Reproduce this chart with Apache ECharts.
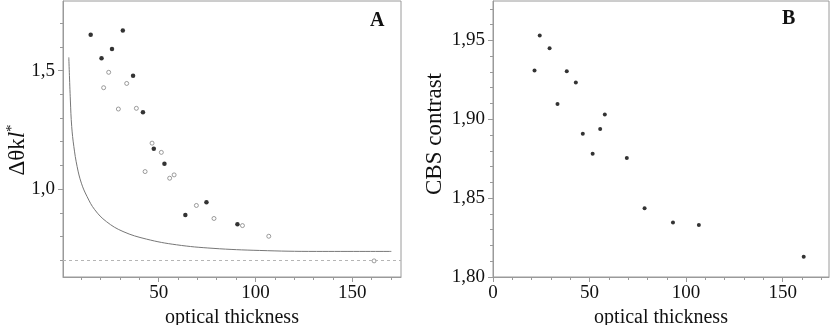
<!DOCTYPE html>
<html>
<head>
<meta charset="utf-8">
<script src="https://cdn.jsdelivr.net/npm/echarts@6/dist/echarts.min.js"></script>
<style>
html,body{margin:0;padding:0;background:#fff;}
#chart{width:830px;height:325px;}
</style>
</head>
<body>
<div id="chart"></div>
<script>
// ---- Panel A data ----
const filledA_x = [14.9, 31.5, 20.5, 25.9, 36.8, 41.9, 47.5, 53.0, 63.8, 74.7, 90.7];
const filledA_y = [1.652, 1.669, 1.552, 1.591, 1.479, 1.324, 1.170, 1.107, 0.891, 0.945, 0.852];
const openA_x = [24.2, 21.6, 33.5, 29.2, 38.5, 46.6, 51.4, 43.0, 55.7, 58.0, 69.5, 78.6, 93.3, 106.9, 161.3];
const openA_y = [1.493, 1.428, 1.446, 1.338, 1.341, 1.194, 1.155, 1.074, 1.046, 1.060, 0.931, 0.876, 0.846, 0.801, 0.697];
const curveA_x = [3.6, 4.4, 5.1, 6.2, 7.9, 10.1, 13.0, 17.0, 23.0, 31.6, 43.7, 59.2, 78.1, 102.2, 131.5, 170.2];
const curveA_y = [1.556, 1.376, 1.264, 1.180, 1.095, 1.025, 0.969, 0.913, 0.863, 0.821, 0.789, 0.765, 0.750, 0.741, 0.737, 0.737];
const referenceLevelA = 0.7;
const xTicksA = [10, 20, 30, 40, 50, 60, 70, 80, 90, 100, 110, 120, 130, 140, 150, 160, 170];
const xLabelsA = [50, 100, 150];
const yTicksA = [0.7, 0.8, 0.9, 1.0, 1.1, 1.2, 1.3, 1.4, 1.5, 1.6, 1.7];
const yLabelsA = [1.0, 1.5];

// ---- Panel B data ----
const pointsB_x = [24.2, 29.3, 21.5, 38.2, 42.9, 33.4, 57.9, 55.5, 46.5, 51.6, 69.3, 78.5, 93.2, 106.6, 160.9];
const pointsB_y = [1.9532, 1.9451, 1.9310, 1.9304, 1.9234, 1.9097, 1.9030, 1.8939, 1.8908, 1.8781, 1.8755, 1.8436, 1.8345, 1.8329, 1.8128];
const xTicksB = [0, 10, 20, 30, 40, 50, 60, 70, 80, 90, 100, 110, 120, 130, 140, 150, 160, 170];
const xLabelsB = [0, 50, 100, 150];
const yTicksB = [1.80, 1.81, 1.82, 1.83, 1.84, 1.85, 1.86, 1.87, 1.88, 1.89, 1.90, 1.91, 1.92, 1.93, 1.94, 1.95, 1.96, 1.97];
const yLabelsB = [1.80, 1.85, 1.90, 1.95];

const zip = (xs, ys) => xs.map((x, i) => [x, ys[i]]);
const FONT = 'Liberation Serif';
const AXIS_COLOR = '#9a9a9a';

function comma(d) { return v => Number(v).toFixed(d).replace('.', ','); }

function baseX(gridIndex, min, max, ticks, labels, dec, name) {
  return {
    type: 'value', gridIndex, min, max, position: 'bottom',
    axisLine: { show: true, lineStyle: { color: AXIS_COLOR, width: 1 } },
    axisTick: { show: true, customValues: ticks, length: 3, inside: false, lineStyle: { color: AXIS_COLOR } },
    axisLabel: { show: true, customValues: labels, formatter: comma(dec), margin: 7,
      fontFamily: FONT, fontSize: 19, color: '#111' },
    splitLine: { show: false },
    name, nameLocation: 'middle', nameGap: 27,
    nameTextStyle: { fontFamily: FONT, fontSize: 20, color: '#111' }
  };
}
function majorX(gridIndex, min, max, labels) {
  return {
    type: 'value', gridIndex, min, max, position: 'bottom',
    axisLine: { show: false },
    axisTick: { show: true, customValues: labels, length: 5, lineStyle: { color: AXIS_COLOR } },
    axisLabel: { show: false }, splitLine: { show: false }
  };
}
function baseY(gridIndex, min, max, ticks, labels, dec, name, gap, pad) {
  return {
    type: 'value', gridIndex, min, max, position: 'left',
    axisLine: { show: true, lineStyle: { color: AXIS_COLOR, width: 1 } },
    axisTick: { show: true, customValues: ticks, length: 3, lineStyle: { color: AXIS_COLOR } },
    axisLabel: { show: true, customValues: labels, formatter: comma(dec), margin: 8,
      fontFamily: FONT, fontSize: 19, color: '#111' },
    splitLine: { show: false },
    name, nameLocation: 'middle', nameGap: gap,
    nameTextStyle: { fontFamily: FONT, fontSize: 23, color: '#111', padding: pad }
  };
}
function majorY(gridIndex, min, max, labels) {
  return {
    type: 'value', gridIndex, min, max, position: 'left',
    axisLine: { show: false },
    axisTick: { show: true, customValues: labels, length: 5, lineStyle: { color: AXIS_COLOR } },
    axisLabel: { show: false }, splitLine: { show: false }
  };
}

const chart = echarts.init(document.getElementById('chart'), null, { renderer: 'canvas' });
chart.setOption({
  animation: false,
  backgroundColor: '#fff',
  grid: [
    { left: 63, top: 1, width: 338, height: 276, outerBoundsMode: 'none', containLabel: false,
      show: true, borderColor: AXIS_COLOR, borderWidth: 1, backgroundColor: 'transparent' },
    { left: 493, top: 1, width: 336, height: 276, outerBoundsMode: 'none', containLabel: false,
      show: true, borderColor: AXIS_COLOR, borderWidth: 1, backgroundColor: 'transparent' }
  ],
  xAxis: [
    baseX(0, 0.6, 175.2, xTicksA, xLabelsA, 0, 'optical thickness'),
    majorX(0, 0.6, 175.2, xLabelsA),
    baseX(1, 0, 174, xTicksB, xLabelsB, 0, 'optical thickness'),
    majorX(1, 0, 174, xLabelsB)
  ],
  yAxis: [
    baseY(0, 0.629, 1.794, yTicksA, yLabelsA, 1, '', 34, 0),
    majorY(0, 0.629, 1.794, yLabelsA),
    baseY(1, 1.80, 1.975, yTicksB, yLabelsB, 2, 'CBS contrast', 47, [0, 0, 0, 10]),
    majorY(1, 1.80, 1.975, yLabelsB)
  ],
  graphic: [
    { type: 'text', x: 18, y: 150, rotation: Math.PI / 2,
      style: { text: '{a|Δθk}{i|l}{s|*}', align: 'center', verticalAlign: 'middle',
        fontFamily: FONT, fontSize: 23, fill: '#111',
        rich: {
          a: { fontFamily: FONT, fontSize: 23, fill: '#111' },
          i: { fontFamily: FONT, fontSize: 23, fontStyle: 'italic', fill: '#111' },
          s: { fontFamily: FONT, fontSize: 15, fill: '#111', padding: [0, 0, 12, 0] }
        } } },
    { type: 'text', left: 370, top: 11, style: { text: 'A', fontFamily: FONT, fontSize: 20, fontWeight: 'bold', fill: '#111' } },
    { type: 'text', left: 782, top: 9, style: { text: 'B', fontFamily: FONT, fontSize: 20, fontWeight: 'bold', fill: '#111' } }
  ],
  series: [
    {
      type: 'line', xAxisIndex: 0, yAxisIndex: 0, data: zip(curveA_x, curveA_y),
      smooth: 0.4, showSymbol: false, lineStyle: { color: '#777', width: 1 },
      markLine: { silent: true, symbol: 'none', label: { show: false },
        lineStyle: { color: '#b5b5b5', type: [3, 3], width: 1 },
        data: [{ yAxis: referenceLevelA }] }
    },
    {
      type: 'scatter', xAxisIndex: 0, yAxisIndex: 0, data: zip(openA_x, openA_y),
      symbol: 'circle', symbolSize: 4,
      itemStyle: { color: '#fff', borderColor: '#666', borderWidth: 0.8 }
    },
    {
      type: 'scatter', xAxisIndex: 0, yAxisIndex: 0, data: zip(filledA_x, filledA_y),
      symbol: 'circle', symbolSize: 4.5, itemStyle: { color: '#000' }
    },
    {
      type: 'scatter', xAxisIndex: 2, yAxisIndex: 2, data: zip(pointsB_x, pointsB_y),
      symbol: 'circle', symbolSize: 4, itemStyle: { color: '#000' }
    }
  ]
});
</script>
</body>
</html>
